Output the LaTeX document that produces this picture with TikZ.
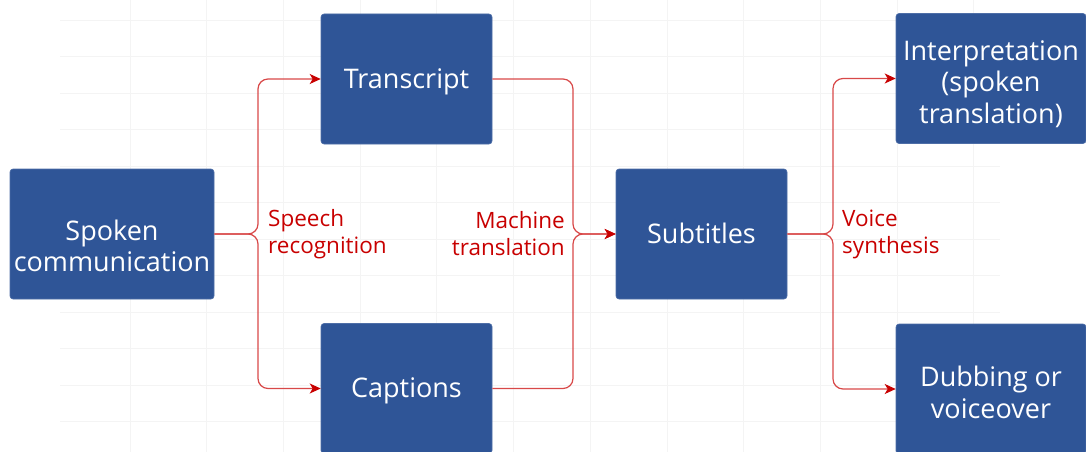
\documentclass[tikz,border=0pt]{standalone}
\usepackage{fontspec}
\setmainfont{Open Sans}
\usepackage{tikz}
\usetikzlibrary{arrows.meta, calc}
\definecolor{cBox}     {HTML}{2F5597}
\definecolor{cFlow}    {HTML}{C80000}
\definecolor{cFlowLine}{HTML}{D84848}
\definecolor{cGrid}    {HTML}{F4F4F4}
% stage caption, centred lines dropped a little inside the box
\newcommand{\stagetext}[2][-3pt]{%
  \raisebox{#1}[\height][\depth]{\begin{tabular}{@{}c@{}}#2\end{tabular}}}

\begin{document}
\begin{tikzpicture}[x=1pt, y=-1pt,
    stagebox/.style={draw=cBox!85!white, fill=cBox, rounded corners=3pt, text=white,
      inner sep=0pt, line width=0.6pt,
      font=\fontsize{27pt}{31.5pt}\selectfont},
    flow/.style={draw=cFlowLine, line width=1.2pt, rounded corners=10pt,
      -{Stealth[length=11pt, width=10pt, inset=3pt, color=cFlow]}},
    flowlabel/.style={text=cFlow, inner sep=0pt,
      font=\fontsize{22.5pt}{27pt}\selectfont}]
  \useasboundingbox (0,0) rectangle (1086,452);
  \clip (0,0) rectangle (1086,452);
  % faint canvas grid
  \foreach \i in {1,...,12}{
    \draw[cGrid, line width=0.8pt] (53.3 + \i*76.7, 0) -- (53.3 + \i*76.7, 452);
  }
  \foreach \j in {0,...,11}{
    \draw[cGrid, line width=0.8pt] (60, 20 + \j*36.5) -- (1000, 20 + \j*36.5);
  }
  % stages
  \node[stagebox, minimum width=204, minimum height=130] (spoken) at (112, 234) {\stagetext[-15.5pt]{Spoken\\communication}};
  \node[stagebox, minimum width=171, minimum height=130] (transcript) at (406.5, 79) {\stagetext{Transcript}};
  \node[stagebox, minimum width=171, minimum height=130] (captions) at (406.5, 388.5) {\stagetext{Captions}};
  \node[stagebox, minimum width=171, minimum height=130] (subtitles) at (701.5, 234) {\stagetext{Subtitles}};
  \node[stagebox, minimum width=190, minimum height=130] (interp) at (991, 78.5) {\stagetext[-7pt]{Interpretation\\(spoken\\translation)}};
  \node[stagebox, minimum width=190, minimum height=130] (dubbing) at (991, 389) {\stagetext[-7pt]{Dubbing or\\voiceover}};
  % branch points
  \coordinate (splitA) at (258, 234);
  \coordinate (mergeB) at (573, 234);
  \coordinate (splitC) at (833, 234);
  % speech recognition
  \draw[flow] (spoken.east) -- (splitA) |- (transcript.west);
  \draw[flow] (spoken.east) -- (splitA) |- (captions.west);
  \node[flowlabel, anchor=west, align=left] (asr) at (268, 234) {Speech\\recognition};
  % machine translation
  \draw[flow] (transcript.east) -| (mergeB) -- (subtitles.west);
  \draw[flow] (captions.east) -| (mergeB) -- (subtitles.west);
  \node[flowlabel, anchor=east, align=right] (mt) at (565, 234) {Machine\\translation};
  % voice synthesis
  \draw[flow] (subtitles.east) -- (splitC) |- (interp.west);
  \draw[flow] (subtitles.east) -- (splitC) |- (dubbing.west);
  \node[flowlabel, anchor=west, align=left] (tts) at (842, 234) {Voice\\synthesis};
\end{tikzpicture}
\end{document}
